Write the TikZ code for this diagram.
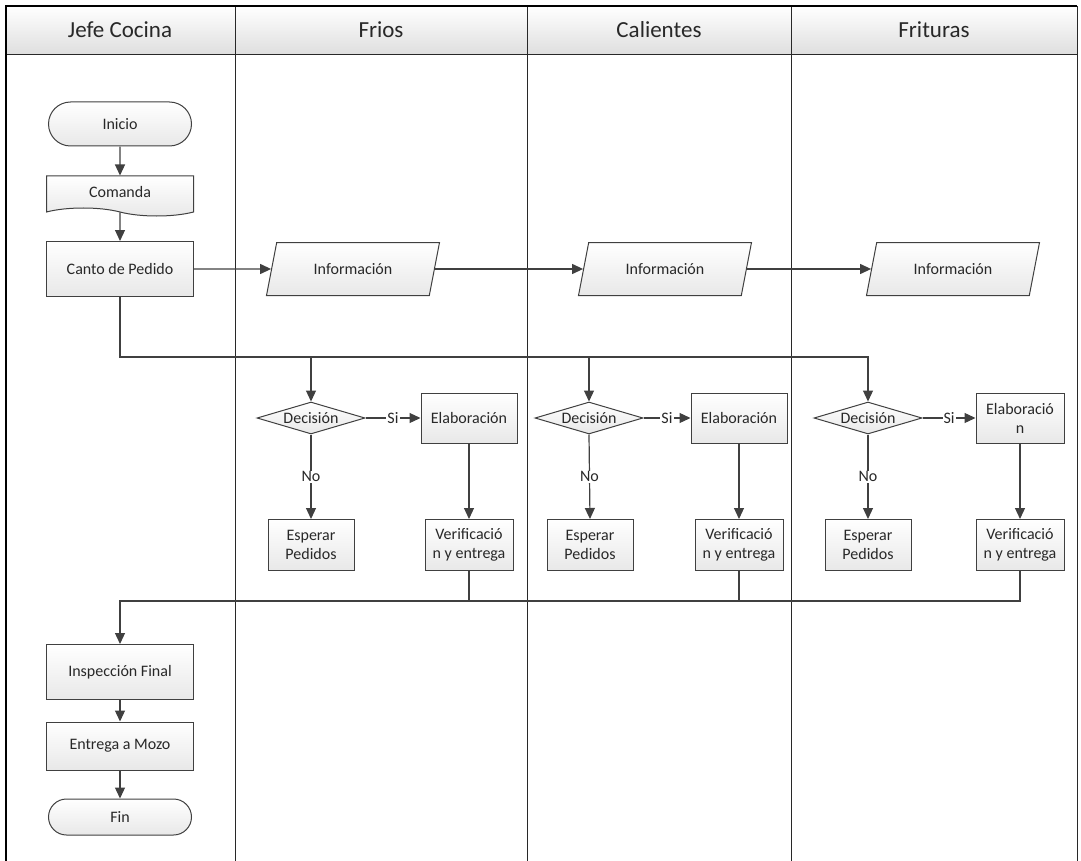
\documentclass[tikz,border=0pt]{standalone}
\usepackage{fontspec}
\setmainfont{Carlito}
\usepackage{xcolor}
\definecolor{base01}{RGB}{64,64,64}
\definecolor{base02}{RGB}{40,40,40}
\definecolor{boxgray}{RGB}{232,232,232}
\definecolor{headgray}{RGB}{222,222,222}
\usetikzlibrary{arrows.meta,shapes.geometric,shapes.misc,shapes.symbols}

\begin{document}
\begin{tikzpicture}[x=1pt,y=-1pt,
    every node/.style={font=\fontsize{16}{19}\selectfont, align=center, text=base02},
    box/.style={rectangle, draw=base01, line width=1pt, top color=white,
                bottom color=boxgray, inner sep=2pt, minimum width=147},
    term/.style={box, rounded rectangle},
    doc/.style={box, tape, tape bend top=none, tape bend bottom=out and in,
                tape bend height=8pt},
    io/.style={box, trapezium, trapezium left angle=56, trapezium right angle=124,
               trapezium stretches body, minimum width=173, minimum height=53},
    dec/.style={box, diamond, aspect=3.4, inner sep=0pt, minimum width=108,
                minimum height=32},
    wire/.style={draw=base01, line width=1.2pt},
    flow/.style={wire, -{Triangle[length=11pt,width=10pt]}},
    lbl/.style={fill=white, inner sep=1pt},
    lane/.style={draw=base02, line width=1pt},
    head/.style={font=\fontsize{23}{28}\selectfont}]
    \useasboundingbox (0,0) rectangle (1081,861);

    % swimlanes
    \shade[top color=white, bottom color=headgray] (6,6) rectangle (1077,55);
    \draw[lane] (6,55) -- (1077,55);
    \draw[lane] (235,6) -- (235,861);
    \draw[lane] (527,6) -- (527,861);
    \draw[lane] (791,6) -- (791,861);
    \draw[draw=black, line width=2pt] (6,861) -- (6,6) -- (1077,6);
    \draw[lane] (1077,6) -- (1077,861);
    \node[head] (jefe) at (120,30) {Jefe Cocina};
    \node[head] (frios) at (381,30) {Frios};
    \node[head] (calientes) at (659,30) {Calientes};
    \node[head] (frituras) at (934,30) {Frituras};

    % jefe cocina
    \node[term, minimum height=44] (inicio) at (120,124) {Inicio};
    \node[doc, minimum height=40] (comanda) at (120,192) {Comanda};
    \node[box, minimum height=55] (canto) at (120,269) {Canto de Pedido};
    \node[box, minimum height=55] (insp) at (120,672) {Inspección Final};
    \node[box, minimum height=48] (entrega) at (120,746) {Entrega a Mozo};
    \node[term, minimum height=36] (fin) at (120,817) {Fin};

    \node[io] (infoA) at (353,269) {Información};
    \node[io] (infoB) at (665,269) {Información};
    \node[io] (infoC) at (953,269) {Información};

    % frios
    \node[dec] (decA) at (311,418) {Decisión};
    \node[box, minimum width=96, minimum height=50] (elabA) at (469,418) {Elaboración};
    \node[box, minimum width=86, minimum height=51] (espA) at (311,545) {Esperar\\Pedidos};
    \node[box, minimum width=88, minimum height=51] (verA) at (469,545) {Verificació\\n y entrega};

    % calientes
    \node[dec] (decB) at (589,418) {Decisión};
    \node[box, minimum width=96, minimum height=50] (elabB) at (739,418) {Elaboración};
    \node[box, minimum width=86, minimum height=51] (espB) at (590,545) {Esperar\\Pedidos};
    \node[box, minimum width=88, minimum height=51] (verB) at (739,545) {Verificació\\n y entrega};

    % frituras
    \node[dec] (decC) at (868,418) {Decisión};
    \node[box, minimum width=88, minimum height=50] (elabC) at (1020,418) {Elaboració\\n};
    \node[box, minimum width=86, minimum height=51] (espC) at (868,545) {Esperar\\Pedidos};
    \node[box, minimum width=88, minimum height=51] (verC) at (1020,545) {Verificació\\n y entrega};

    \coordinate (bus) at (120,357);
    \coordinate (back) at (120,601);

    \draw[flow] (inicio) -- (comanda);
    \draw[flow] (comanda) -- (canto);
    \draw[flow] (canto.east) -- (infoA.west);
    \draw[flow] (infoA.east) -- (infoB.west);
    \draw[flow] (infoB.east) -- (infoC.west);

    \draw[flow] (canto.south) -- (bus) -| (decC.north);
    \draw[flow] (decA.north |- bus) -- (decA.north);
    \draw[flow] (decB.north |- bus) -- (decB.north);

    \draw[flow] (decA.east) -- node[lbl] {Si} (elabA.west);
    \draw[flow] (decA.south) -- node[lbl] {No} (espA.north);
    \draw[flow] (elabA) -- (verA);
    \draw[flow] (decB.east) -- node[lbl] {Si} (elabB.west);
    \draw[flow] (decB.south) -- node[lbl] {No} (espB.north);
    \draw[flow] (elabB) -- (verB);
    \draw[flow] (decC.east) -- node[lbl] {Si} (elabC.west);
    \draw[flow] (decC.south) -- node[lbl] {No} (espC.north);
    \draw[flow] (elabC) -- (verC);

    \draw[flow] (verC.south) |- (back) -- (insp.north);
    \draw[wire] (verA.south) -- (verA.south |- back);
    \draw[wire] (verB.south) -- (verB.south |- back);
    \draw[flow] (insp) -- (entrega);
    \draw[flow] (entrega) -- (fin);
\end{tikzpicture}
\end{document}
